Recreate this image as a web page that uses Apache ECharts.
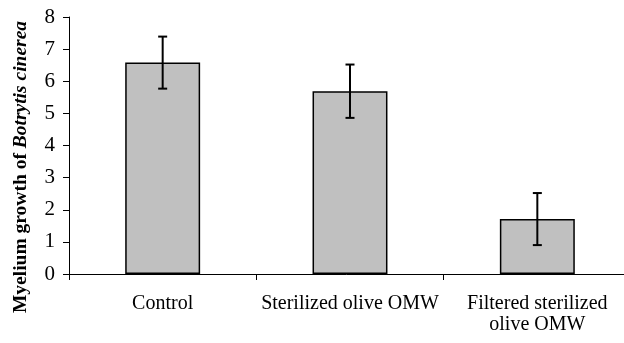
<!DOCTYPE html>
<html><head><meta charset="utf-8">
<script src="https://cdn.jsdelivr.net/npm/echarts@6/dist/echarts.min.js"></script>
<style>html,body{margin:0;padding:0;background:#fff}#c{width:624px;height:343px}</style>
</head><body><div id="c"></div>
<script>
var categories = ['Control', 'Sterilized olive OMW', 'Filtered sterilized\nolive OMW'];
var values = [6.58, 5.69, 1.71];
var errors = [0.81, 0.83, 0.81];
var yTicks = [0, 1, 2, 3, 4, 5, 6, 7, 8];

var chart = echarts.init(document.getElementById('c'));
var FONT = 'Liberation Serif';
chart.setOption({
  animation: false,
  grid: { left: 69, right: -7, top: 17, bottom: 69, containLabel: false, outerBoundsMode: 'none' },
  xAxis: {
    type: 'category', data: categories, boundaryGap: true,
    axisLine: { lineStyle: { color: '#000', width: 1 } },
    axisTick: { show: true, length: 6, lineStyle: { color: '#000' } },
    axisLabel: { color: '#000', fontFamily: FONT, fontSize: 20, margin: 19, lineHeight: 21, interval: 0 }
  },
  yAxis: {
    type: 'value', min: yTicks[0], max: yTicks[yTicks.length - 1], interval: 1,
    splitLine: { show: false },
    axisLine: { show: true, lineStyle: { color: '#000', width: 1 } },
    axisTick: { show: true, length: 6, lineStyle: { color: '#000' } },
    axisLabel: { color: '#000', fontFamily: FONT, fontSize: 21, margin: 14 }
  },
  graphic: [{
    type: 'text', x: 21, y: 167, rotation: Math.PI / 2,
    style: {
      text: '{b|Myelium growth of }{bi|Botrytis cinerea}',
      align: 'center', verticalAlign: 'middle',
      rich: {
        b: { fontFamily: FONT, fontSize: 19.5, fontWeight: 'bold', fill: '#000' },
        bi: { fontFamily: FONT, fontSize: 19.5, fontWeight: 'bold', fontStyle: 'italic', fill: '#000' }
      }
    }
  }],
  series: [{
    type: 'bar', data: values, barWidth: '40%',
    itemStyle: { color: '#c0c0c0', borderColor: '#000', borderWidth: 1.5 }
  }, {
    type: 'custom',
    data: values.map(function (v, i) { return [i, v - errors[i], v + errors[i]]; }),
    renderItem: function (params, api) {
      var lo = api.coord([api.value(0), api.value(1)]);
      var hi = api.coord([api.value(0), api.value(2)]);
      var x = lo[0], c = 4.5;
      var st = { stroke: '#000', lineWidth: 2 };
      return { type: 'group', children: [
        { type: 'line', shape: { x1: x, y1: lo[1], x2: x, y2: hi[1] }, style: st },
        { type: 'line', shape: { x1: x - c, y1: lo[1], x2: x + c, y2: lo[1] }, style: st },
        { type: 'line', shape: { x1: x - c, y1: hi[1], x2: x + c, y2: hi[1] }, style: st }
      ]};
    },
    z: 5
  }]
});
</script></body></html>
